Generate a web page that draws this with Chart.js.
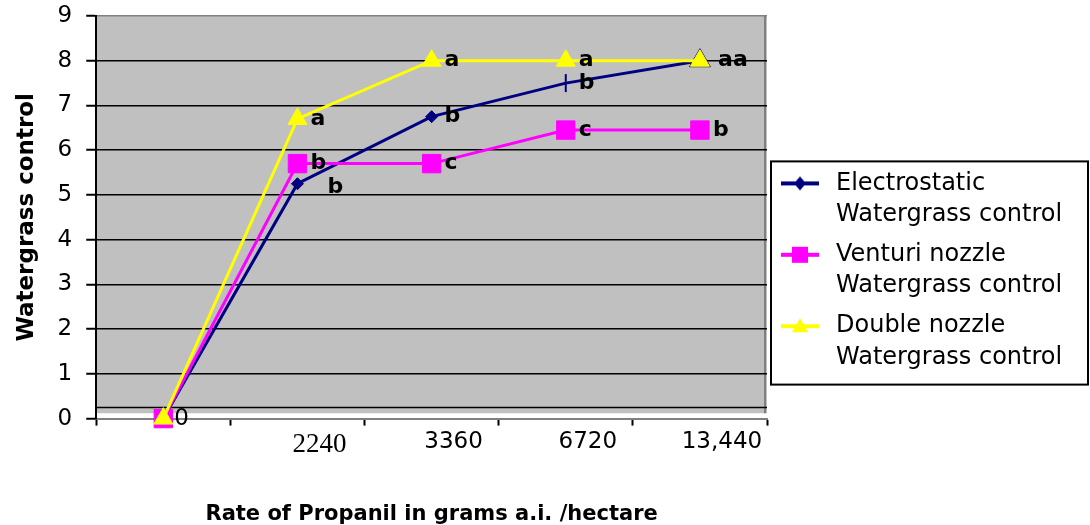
<!DOCTYPE html>
<html>
<head>
<meta charset="utf-8">
<script src="https://cdn.jsdelivr.net/npm/chart.js@4.4.0/dist/chart.umd.min.js"></script>
<style>
  html, body { margin: 0; padding: 0; background: #fff; }
</style>
</head>
<body>
<canvas id="myLineChart" width="1090" height="525"></canvas>
<script>
/* watergrass control chart */

var categories = ['0', '2240', '3360', '6720', '13,440'];
var yTicks = [0, 1, 2, 3, 4, 5, 6, 7, 8, 9];

var electrostatic = [0, 5.25, 6.75, 7.5, 8];
var venturi = [0, 5.7, 5.7, 6.45, 6.45];
var doubleNozzle = [0, 6.7, 8, 8, 8];

// letters printed next to each point
var electrostaticLetters = ['', 'b', 'b', 'b', 'a'];
var venturiLetters = ['', 'b', 'c', 'c', 'b'];
var doubleLetters = ['0', 'a', 'a', 'a', 'a'];

var seriesNames = [
    ['Electrostatic', 'Watergrass control'],
    ['Venturi nozzle', 'Watergrass control'],
    ['Double nozzle', 'Watergrass control']
];
var yTitle = 'Watergrass control';
var xTitle = 'Rate of Propanil in grams a.i. /hectare';

var navy = '#000080', magenta = '#ff00ff', yellow = '#ffff00';
var letterSets = [electrostaticLetters, venturiLetters, doubleLetters];

Chart.defaults.font.family = 'DejaVu Sans';
Chart.defaults.color = '#000';

// small line + marker pictures for the legend
function legendIcon(color, shape) {
    var cv = document.createElement('canvas');
    cv.width = 38; cv.height = 20;
    var c = cv.getContext('2d');
    c.fillStyle = color;
    c.fillRect(0, 8, 38, 4);
    c.beginPath();
    if (shape === 'diamond') {
        c.moveTo(19, 3); c.lineTo(25, 10); c.lineTo(19, 17); c.lineTo(13, 10);
    } else if (shape === 'square') {
        c.rect(11, 2, 16, 16);
    } else {
        c.moveTo(19, 2); c.lineTo(27, 16); c.lineTo(11, 16);
    }
    c.closePath();
    c.fill();
    return cv;
}
var legendIcons = [legendIcon(navy, 'diamond'), legendIcon(magenta, 'square'), legendIcon(yellow, 'triangle')];

var plotBackground = {
    id: 'plotBackground',
    beforeDraw: function(chart) {
        var a = chart.chartArea, y = chart.scales.y, c = chart.ctx;
        var bottom = y.getPixelForValue(0.12);
        c.save();
        c.fillStyle = '#c0c0c0';
        c.fillRect(a.left, a.top, a.right - a.left, bottom - a.top);
        c.strokeStyle = '#808080';
        c.lineWidth = 2;
        c.beginPath(); c.moveTo(a.right - 2, a.top); c.lineTo(a.right - 2, bottom); c.stroke();
        c.strokeStyle = '#000';
        c.lineWidth = 1.5;
        var yl = y.getPixelForValue(0.25);
        c.beginPath(); c.moveTo(a.left, yl); c.lineTo(a.right, yl); c.stroke();
        c.restore();
    }
};

var pointLetters = {
    id: 'pointLetters',
    afterDatasetsDraw: function(chart) {
        var c = chart.ctx;
        var shifts = { '0-1': [30, 4], '0-4': [33, 0], '2-4': [18, 0], '2-0': [11, 0] };
        c.save();
        c.textAlign = 'left';
        c.textBaseline = 'middle';
        c.fillStyle = '#000';
        letterSets.forEach(function(letters, i) {
            var meta = chart.getDatasetMeta(i);
            letters.forEach(function(txt, j) {
                if (!txt) return;
                var pt = meta.data[j];
                var s = shifts[i + '-' + j] || [13, 0];
                c.font = /\d/.test(txt) ? '23px "DejaVu Sans"' : 'bold 22px "DejaVu Sans"';
                c.fillText(txt, pt.x + s[0], pt.y + s[1]);
            });
        });
        c.restore();
    }
};

// legend: fixed width, items nudged down, and a frame round them
var legendFrame = {
    id: 'legendFrame',
    afterInit: function(chart) {
        var lg = chart.legend;
        var baseFit = lg.fit;
        lg.fit = function() {
            baseFit.call(this);
            this.width = 323;
            if (this.columnSizes && this.columnSizes.length) {
                this.columnSizes[0].height -= 7;
            }
        };
    },
    afterDraw: function(chart) {
        var boxes = chart.legend.legendHitBoxes;
        if (!boxes || !boxes.length) return;
        var last = boxes[boxes.length - 1];
        var c = chart.ctx;
        var left = boxes[0].left - 5;
        var top = boxes[0].top - 10;
        c.save();
        c.strokeStyle = '#000';
        c.lineWidth = 2;
        c.strokeRect(left, top, 1088 - left, last.top + last.height + 8 - top);
        c.restore();
    }
};

var ctx = document.getElementById('myLineChart').getContext('2d');
var chart = new Chart(ctx, {
    type: 'line',
    data: {
        labels: categories,
        datasets: [{
            label: seriesNames[0].join(' '),
            data: electrostatic,
            borderColor: navy,
            backgroundColor: navy,
            borderWidth: 3,
            pointStyle: ['rectRot', 'rectRot', 'rectRot', 'line', 'triangle'],
            pointRotation: [0, 0, 0, 90, 0],
            pointRadius: [6, 6, 6, 9, 12],
            pointBorderWidth: [1, 1, 1, 2, 1],
            order: 3,
            clip: false
        }, {
            label: seriesNames[1].join(' '),
            data: venturi,
            borderColor: magenta,
            backgroundColor: magenta,
            borderWidth: 3,
            pointStyle: 'rect',
            pointRadius: 13,
            pointBorderWidth: 1,
            order: 2,
            clip: false
        }, {
            label: seriesNames[2].join(' '),
            data: doubleNozzle,
            borderColor: yellow,
            backgroundColor: yellow,
            borderWidth: 3,
            pointStyle: 'triangle',
            pointRadius: 11,
            pointBorderWidth: 1,
            order: 1,
            clip: false
        }]
    },
    options: {
        responsive: false,
        animation: false,
        layout: { padding: { top: 16, left: 0, right: 0, bottom: 0 } },
        plugins: {
            tooltip: { enabled: false },
            legend: {
                position: 'right',
                labels: {
                    usePointStyle: true,
                    pointStyleWidth: 48,
                    padding: 9,
                    color: '#000',
                    font: { family: 'DejaVu Sans', size: 24, lineHeight: 1.3 },
                    generateLabels: function(chart) {
                        return chart.data.datasets.map(function(ds, i) {
                            return {
                                text: seriesNames[i],
                                fillStyle: ds.borderColor,
                                strokeStyle: ds.borderColor,
                                lineWidth: 0,
                                pointStyle: legendIcons[i],
                                datasetIndex: i,
                                fontColor: '#000'
                            };
                        });
                    }
                }
            }
        },
        scales: {
            x: {
                offset: true,
                grid: { offset: true, drawOnChartArea: false, drawTicks: true, tickLength: 7, tickColor: '#000', tickWidth: 2 },
                border: { color: '#808080', width: 2 },
                ticks: {
                    autoSkip: false,
                    maxRotation: 0,
                    labelOffset: 22,
                    padding: 3,
                    color: '#000',
                    callback: function(v, i) { return i === 0 ? '' : categories[i]; },
                    font: function(c) {
                        return c.index === 1 ? { family: 'Liberation Serif', size: 27 } : { family: 'DejaVu Sans', size: 23 };
                    }
                },
                title: {
                    display: true,
                    text: xTitle,
                    color: '#000',
                    font: { family: 'DejaVu Sans', size: 21, weight: 'bold', lineHeight: 1.0 },
                    padding: { top: 40, bottom: 0 }
                }
            },
            y: {
                min: 0,
                max: 9,
                afterBuildTicks: function(axis) {
                    axis.ticks = yTicks.map(function(v) { return { value: v }; });
                },
                afterFit: function(axis) {
                    axis.paddingTop = 16;
                },
                grid: {
                    color: function(c) {
                        if (c.tick.value === 0) return 'rgba(0,0,0,0)';
                        return c.tick.value === 9 ? '#808080' : '#000';
                    },
                    lineWidth: 1.5,
                    tickLength: 10,
                    tickColor: '#000',
                    tickWidth: 2
                },
                border: { color: '#000', width: 2 },
                ticks: { padding: 14, color: '#000', font: { family: 'DejaVu Sans', size: 23 } },
                title: {
                    display: true,
                    text: yTitle,
                    color: '#000',
                    font: { family: 'DejaVu Sans', size: 23, weight: 'bold' },
                    padding: { top: 13, bottom: 3 }
                }
            }
        }
    },
    plugins: [plotBackground, pointLetters, legendFrame]
});
</script>
</body>
</html>
